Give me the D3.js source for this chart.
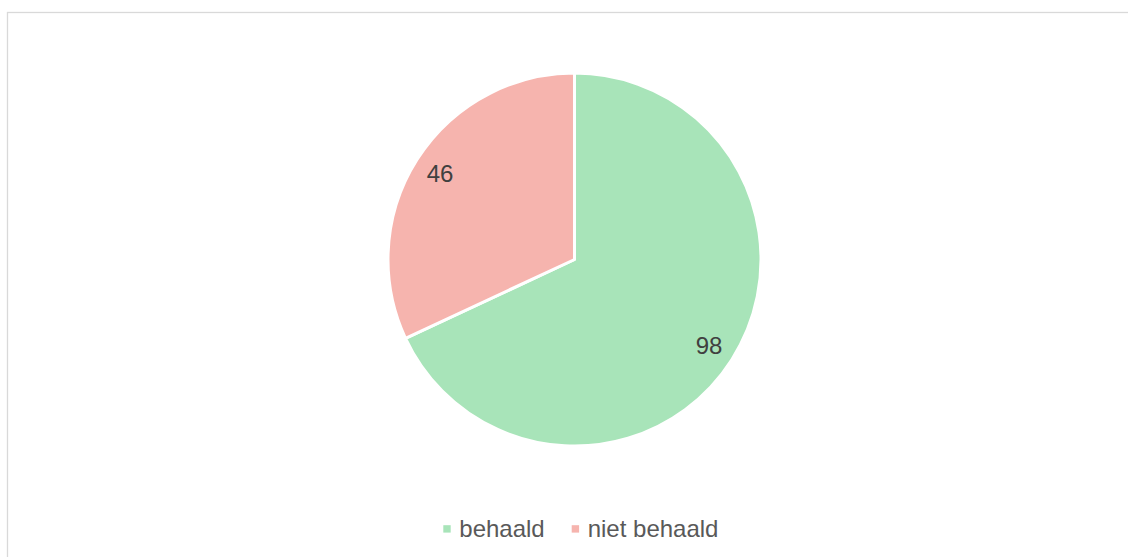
<!DOCTYPE html>
<html><head><meta charset="utf-8">
<script src="https://cdn.jsdelivr.net/npm/d3@7"></script>
<style>html,body{margin:0;padding:0;background:#fff;overflow:hidden}</style>
</head><body>
<svg id="chart" width="1128" height="557"></svg>
<script>
const categories = ["behaald", "niet behaald"];
const values = [98, 46];
const colors = ["#a8e4b9", "#f6b4ae"];

const svg = d3.select("#chart");
svg.append("rect").attr("x", 7.5).attr("y", 12.5).attr("width", 1140).attr("height", 560)
  .attr("fill", "#fff").attr("stroke", "#d9d9d9").attr("stroke-width", 1.3);

const cx = 574.5, cy = 259.5, R = 186.5;
const data = categories.map((c, i) => ({name: c, value: values[i], color: colors[i]}));
const pie = d3.pie().value(d => d.value).sort(null).startAngle(0).endAngle(2 * Math.PI);
const arc = d3.arc().innerRadius(0).outerRadius(R);
const labelArc = d3.arc().innerRadius(R * 0.855).outerRadius(R * 0.855);
const g = svg.append("g").attr("transform", `translate(${cx},${cy})`);
const arcs = pie(data);
g.selectAll("path").data(arcs).join("path")
  .attr("d", arc).attr("fill", d => d.data.color)
  .attr("stroke", "#fff").attr("stroke-width", 3).attr("stroke-linejoin", "round");
g.selectAll("text").data(arcs).join("text")
  .attr("transform", d => `translate(${labelArc.centroid(d)})`)
  .attr("text-anchor", "middle").attr("dominant-baseline", "central")
  .attr("font-family", "Liberation Sans, Arial, sans-serif").attr("font-size", 24)
  .attr("fill", "#404040").text(d => d.data.value);

const legend = svg.append("g").attr("font-family", "Liberation Sans, Arial, sans-serif").attr("font-size", 24);
const legX = [443.3, 571.7];
categories.forEach((c, i) => {
  legend.append("rect").attr("x", legX[i]).attr("y", 525.2).attr("width", 7.4).attr("height", 7.4).attr("fill", colors[i]);
  legend.append("text").attr("x", legX[i] + 16).attr("y", 537)
    .attr("fill", "#595959").text(c);
});
</script>
</body></html>
